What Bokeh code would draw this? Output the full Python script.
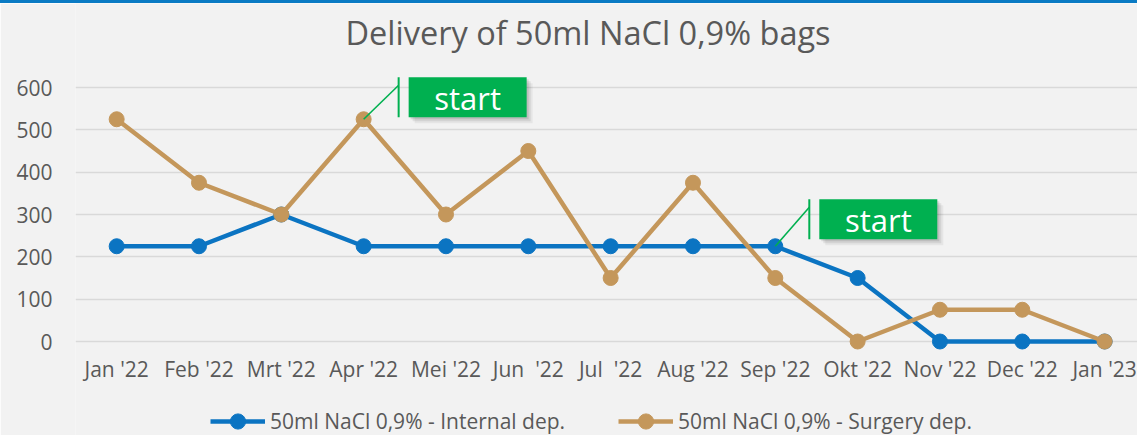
from bokeh.plotting import figure
from bokeh.models import (Range1d, FixedTicker, Legend, LegendItem)
from bokeh.core.properties import value
from bokeh.embed import file_html
from bokeh.resources import INLINE

# ---------------- data ----------------
months = ["Jan '22", "Feb '22", "Mrt '22", "Apr '22", "Mei '22", "Jun  '22", "Jul  '22",
          "Aug '22", "Sep '22", "Okt '22", "Nov '22", "Dec '22", "Jan '23"]
internal = [225, 225, 300, 225, 225, 225, 225, 225, 225, 150, 0, 0, 0]
surgery = [525, 375, 300, 525, 300, 450, 150, 375, 150, 0, 75, 75, 0]
y_ticks = [0, 100, 200, 300, 400, 500, 600]
series_names = ["50ml NaCl 0,9% - Internal dep.", "50ml NaCl 0,9% - Surgery dep."]
title_text = "Delivery of 50ml NaCl 0,9% bags"
annot_text = "start"
annot_points = [("surgery", 3), ("internal", 8)]

# ---------------- style / layout ----------------
FONT = "Open Sans"
TXT = "#595959"
BG = "#f2f2f2"
BLUE = "#0B74C2"
TAN = "#C4975B"
GREEN = "#00B050"

BORDER = 3                      # blue bar on top
FRAME_L = 75                    # page x of the plot frame's left edge
FRAME_W = 1137 - FRAME_L
FRAME_H = 435 - BORDER
PX_X = 82.33                    # pixels per category
PX_Y = 254 / 600                # pixels per unit
ZERO_PY = 341                   # page y of value 0
X0 = -0.5
X1 = X0 + FRAME_W / PX_X
Y0 = -(435 - ZERO_PY) / PX_Y
Y1 = Y0 + FRAME_H / PX_Y


def dx(px):   # page x -> data x
    return X0 + (px - FRAME_L) / PX_X


def dy(py):   # page y -> data y
    return (ZERO_PY - py) / PX_Y


x = list(range(len(months)))

p = figure(title=None, frame_width=FRAME_W, frame_height=FRAME_H,
           x_range=Range1d(X0, X1), y_range=Range1d(Y0, Y1),
           output_backend="svg", toolbar_location=None,
           min_border_left=FRAME_L, min_border_right=0,
           min_border_top=0, min_border_bottom=0,
           background_fill_color=BG, border_fill_color=BG,
           outline_line_color=None)
p.styles = {"border-top": "%dpx solid #0B7BC4" % BORDER}

# axes
p.yaxis.ticker = FixedTicker(ticks=y_ticks)
p.ygrid.ticker = FixedTicker(ticks=y_ticks)
p.xaxis.ticker = FixedTicker(ticks=x)
p.xaxis.major_label_overrides = {i: m.replace("  ", "\u00a0 ") for i, m in enumerate(months)}
p.xaxis.fixed_location = dy(351.5)
for ax in (p.xaxis, p.yaxis):
    ax.axis_line_color = None
    ax.major_tick_line_color = None
    ax.minor_tick_line_color = None
    ax.major_tick_out = 0
    ax.major_tick_in = 0
    ax.major_label_text_font = FONT
    ax.major_label_text_font_size = "21px"
    ax.major_label_text_color = TXT
p.yaxis.major_label_standoff = 23
p.xaxis.major_label_standoff = 3
p.xgrid.grid_line_color = None
p.ygrid.grid_line_color = "#d9d9d9"
p.ygrid.grid_line_width = 1.3

# title (drawn as text inside the frame area)
p.text([dx(587.5)], [dy(31.8)], text=[title_text], text_align="center",
       text_baseline="middle", text_font=value(FONT), text_font_size="32.5px",
       text_color=TXT)

# series
series = {"internal": internal, "surgery": surgery}
colors = {"internal": BLUE, "surgery": TAN}
items = []
for key, name in zip(["internal", "surgery"], series_names):
    lr = p.line(x, series[key], line_color=colors[key], line_width=4.5)
    sr = p.scatter(x, series[key], size=15, fill_color=colors[key], line_color=colors[key])
    items.append(LegendItem(label=name, renderers=[lr, sr]))

# callouts
box_offsets = [(104, 22), (103, 27)]
BOX_W, BOX_H = 118, 40
for (key, idx), (dxp, dyp) in zip(annot_points, box_offsets):
    xv = x[idx]
    yv = series[key][idx]
    cx = xv + dxp / PX_X
    cy = yv + dyp / PX_Y
    for k, a in [(2, 0.10), (4, 0.08), (6, 0.05)]:
        p.rect([cx + k / PX_X], [cy - k / PX_Y], width=BOX_W, height=BOX_H,
               width_units="screen", height_units="screen",
               fill_color="black", fill_alpha=a, line_color=None)
    p.rect([cx], [cy], width=BOX_W, height=BOX_H, width_units="screen",
           height_units="screen", fill_color=GREEN, line_color=None)
    p.text([cx], [cy - 1 / PX_Y], text=[annot_text], text_align="center",
           text_baseline="middle", text_font=value(FONT),
           text_font_size="31px", text_color="white")
    lx = cx - (BOX_W / 2 + 10) / PX_X
    top = cy + (BOX_H / 2) / PX_Y
    bot = cy - (BOX_H / 2) / PX_Y
    p.segment([lx], [top], [lx], [bot], line_color=GREEN, line_width=2)
    p.segment([xv], [yv], [lx], [top - 8 / PX_Y], line_color=GREEN, line_width=1.6)

legend = Legend(items=items, orientation="horizontal", location=(135, -5),
                glyph_width=55, glyph_height=38, label_height=20,
                label_standoff=5, spacing=53,
                padding=0, margin=0, background_fill_alpha=0,
                border_line_color=None, label_text_font=FONT,
                label_text_font_size="21px", label_text_color=TXT)
p.add_layout(legend, "center")

open("out.html", "w").write(file_html(p, INLINE))
